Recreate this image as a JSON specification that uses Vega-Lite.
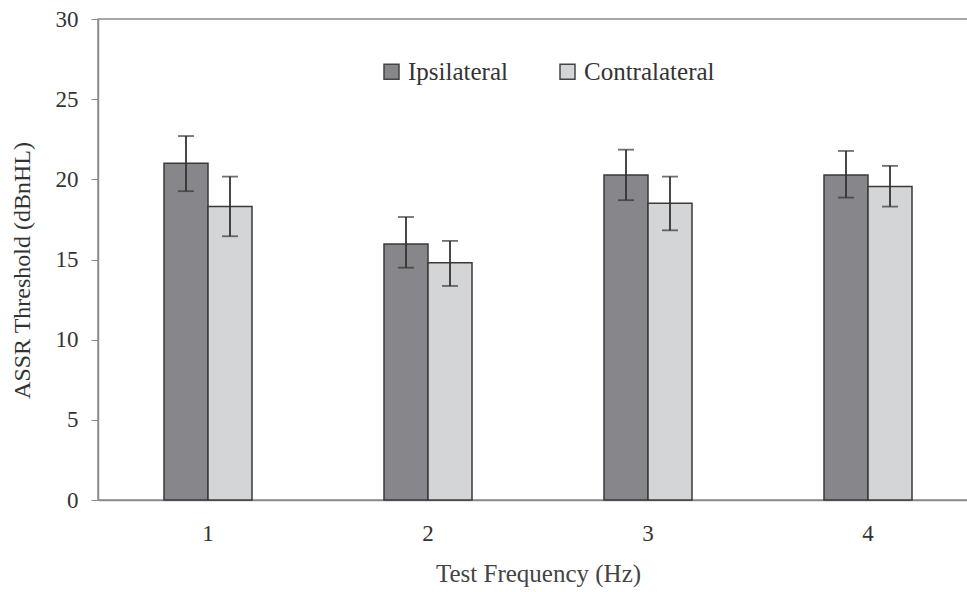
{
  "$schema": "https://vega.github.io/schema/vega-lite/v6.json",
  "width": 880,
  "height": 481,
  "autosize": {"type": "none"},
  "padding": {"left": 98, "top": 19, "right": 0, "bottom": 92},
  "background": "white",
  "config": {
    "font": "Liberation Serif",
    "view": {"stroke": "#8c8c8c", "strokeWidth": 1.5}
  },
  "data": {
    "values": [
      {"freq": "1", "side": "Ipsilateral", "mean": 21.0, "lo": 19.26, "hi": 22.7},
      {"freq": "1", "side": "Contralateral", "mean": 18.3, "lo": 16.45, "hi": 20.17},
      {"freq": "2", "side": "Ipsilateral", "mean": 15.97, "lo": 14.49, "hi": 17.65},
      {"freq": "2", "side": "Contralateral", "mean": 14.8, "lo": 13.35, "hi": 16.16},
      {"freq": "3", "side": "Ipsilateral", "mean": 20.27, "lo": 18.7, "hi": 21.85},
      {"freq": "3", "side": "Contralateral", "mean": 18.51, "lo": 16.82, "hi": 20.17},
      {"freq": "4", "side": "Ipsilateral", "mean": 20.27, "lo": 18.86, "hi": 21.77},
      {"freq": "4", "side": "Contralateral", "mean": 19.55, "lo": 18.3, "hi": 20.84}
    ]
  },
  "encoding": {
    "x": {
      "field": "freq", "type": "nominal",
      "scale": {"paddingInner": 0.6, "paddingOuter": 0.3},
      "axis": {
        "title": "Test Frequency (Hz)", "labelAngle": 0, "ticks": false,
        "domainColor": "#8c8c8c", "domainWidth": 1.5,
        "labelFont": "Liberation Serif", "labelFontSize": 23, "labelColor": "#333",
        "labelPadding": 22, "titleFont": "Liberation Serif", "titleFontSize": 25,
        "titleFontWeight": "normal", "titleColor": "#444", "titlePadding": 16
      }
    },
    "xOffset": {"field": "side", "type": "nominal", "sort": ["Ipsilateral", "Contralateral"], "scale": {"paddingInner": 0, "paddingOuter": 0}}
  },
  "layer": [
    {
      "mark": {"type": "bar", "stroke": "#3a3a3a", "strokeWidth": 1.5},
      "encoding": {
        "y": {
          "field": "mean", "type": "quantitative",
          "scale": {"domain": [0, 30]},
          "axis": {
            "title": "ASSR Threshold (dBnHL)", "values": [0, 5, 10, 15, 20, 25, 30],
            "grid": false, "tickSize": 7, "tickColor": "#8c8c8c", "domainColor": "#8c8c8c", "domainWidth": 1.5,
            "labelFont": "Liberation Serif", "labelFontSize": 23, "labelColor": "#333", "labelPadding": 13,
            "titleFont": "Liberation Serif", "titleFontSize": 24, "titleFontWeight": "normal", "titleColor": "#333",
            "titleX": -76, "titleY": 251, "titleAlign": "center", "titleBaseline": "middle"
          }
        },
        "fill": {
          "field": "side", "type": "nominal", "sort": ["Ipsilateral", "Contralateral"],
          "scale": {"domain": ["Ipsilateral", "Contralateral"], "range": ["#87878b", "#d4d5d7"]},
          "legend": {
            "title": null, "orient": "none", "direction": "horizontal",
            "legendX": 281, "legendY": 40, "symbolType": "square", "symbolSize": 225,
            "symbolStrokeColor": "#444", "symbolStrokeWidth": 1.5,
            "labelFont": "Liberation Serif", "labelFontSize": 25, "labelColor": "#333",
            "labelOffset": 4, "columnPadding": 47
          }
        }
      }
    },
    {
      "mark": {"type": "rule", "stroke": "#333", "strokeWidth": 1.8},
      "encoding": {
        "y": {"field": "lo", "type": "quantitative"},
        "y2": {"field": "hi"}
      }
    },
    {
      "mark": {"type": "tick", "orient": "horizontal", "size": 16, "thickness": 1.8, "color": "#333"},
      "encoding": {"y": {"field": "lo", "type": "quantitative"}}
    },
    {
      "mark": {"type": "tick", "orient": "horizontal", "size": 16, "thickness": 1.8, "color": "#333"},
      "encoding": {"y": {"field": "hi", "type": "quantitative"}}
    }
  ]
}
